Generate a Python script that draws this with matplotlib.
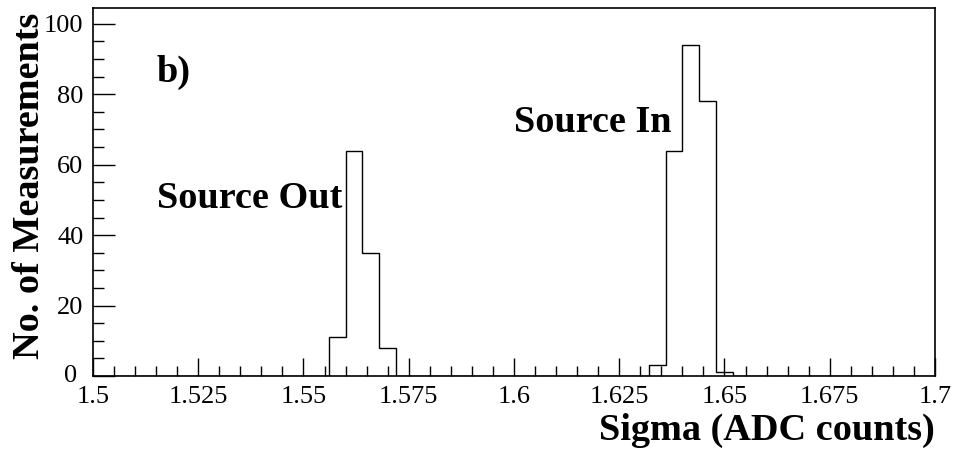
import numpy as np
import matplotlib
matplotlib.use("Agg")
import matplotlib.pyplot as plt
from matplotlib.ticker import MultipleLocator
from matplotlib.transforms import ScaledTranslation

# 50 bins of 0.004 between 1.5 and 1.7, only non-empty bins listed
bin_lo = [1.556, 1.560, 1.564, 1.568,
          1.632, 1.636, 1.640, 1.644, 1.648]
counts = [11, 64, 35, 8,
          3, 64, 94, 78, 1]
xticks = [1.5, 1.525, 1.55, 1.575, 1.6, 1.625, 1.65, 1.675, 1.7]
xtick_labels = ["1.5", "1.525", "1.55", "1.575", "1.6", "1.625", "1.65", "1.675", "1.7"]
yticks = [0, 20, 40, 60, 80, 100]

edges = np.linspace(1.5, 1.7, 51)
centers = np.array(bin_lo) + 0.002

fig = plt.figure(figsize=(9.55, 4.58), dpi=100)
ax = fig.add_axes([93 / 955, 1 - 376 / 458, (935 - 93) / 955, (376 - 8) / 458])

ax.hist(centers, bins=edges, weights=counts, histtype="step", color="black", linewidth=1.0)

ax.set_xlim(1.5, 1.7)
ax.set_ylim(0, 104.5)

serif = "Liberation Serif"
ax.set_xticks(xticks)
ax.set_xticklabels(xtick_labels, fontfamily=serif, fontsize=19)
ax.set_yticks(yticks)
ax.set_yticklabels([str(v) for v in yticks], fontfamily=serif, fontsize=19)
ax.xaxis.set_minor_locator(MultipleLocator(0.005))
ax.yaxis.set_minor_locator(MultipleLocator(5))
ax.tick_params(axis="both", which="both", direction="in", top=False, right=False, width=1.0)
ax.tick_params(axis="x", which="major", length=13, pad=7)
ax.tick_params(axis="x", which="minor", length=7)
ax.tick_params(axis="y", which="major", length=16, pad=7)
ax.tick_params(axis="y", which="minor", length=8)
for s in ax.spines.values():
    s.set_linewidth(1.2)

# nudge the "0" label up-left so it clears the "1.5" label
zero = ax.yaxis.get_major_ticks()[0].label1
zero.set_transform(zero.get_transform() + ScaledTranslation(-0.06, 0.03, fig.dpi_scale_trans))

bold = dict(fontfamily=serif, fontweight="bold", fontsize=27.5)
ax.text(1.5152, 83.5, "b)", **bold)
ax.text(1.5152, 47.7, "Source Out", **bold)
ax.text(1.6001, 69.3, "Source In", **bold)

fig.text(935 / 955, 1 - 440 / 458, "Sigma (ADC counts)", ha="right", va="baseline", **bold)
fig.text(47 / 955, 1 - 13 / 458, "No. of Measurements", rotation=90, ha="right", va="top", **bold)

fig.savefig("out.png", dpi=100)
